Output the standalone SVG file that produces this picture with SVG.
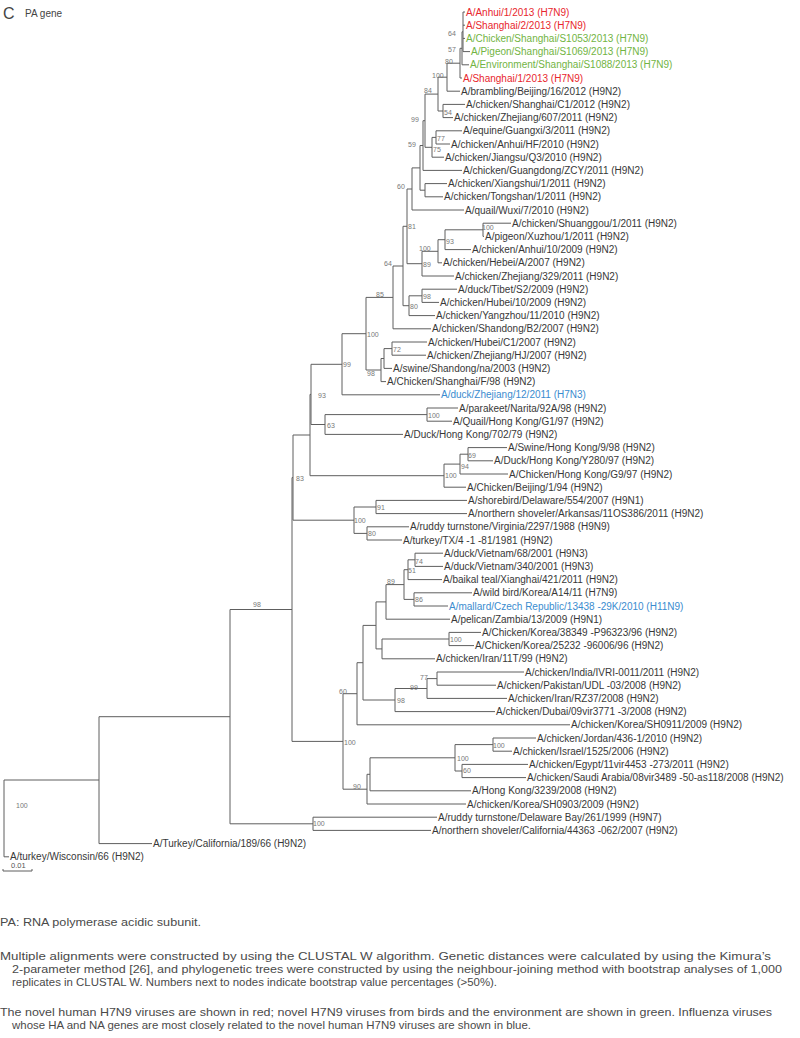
<svg xmlns="http://www.w3.org/2000/svg" width="800" height="1038" viewBox="0 0 800 1038">
<style>
.br{stroke:#5e5e5e;stroke-width:1;fill:none}
text{font-family:"Liberation Sans",Arial,sans-serif}
.lf{font-size:10px;fill:#383838;white-space:pre}
.red{fill:#e8262d}
.grn{fill:#72b443}
.blu{fill:#3a8ccf}
.bs{font-size:7px;fill:#777777;opacity:0.99}
.cap{font-size:11px;fill:#4a4a4a;white-space:pre}
</style>
<rect width="800" height="1038" fill="#fff"/>
<g id="title">
<text x="3" y="19" style="font-size:16px;fill:#444">C</text>
<text x="25" y="17" style="font-size:10px;fill:#444">PA gene</text>
</g>
<g id="connectors" class="br">
<path d="M463,12V51.6M463,12H465M463,25.2H465M463,38.4H465M463,51.6H470"/>
<path d="M462,31.8V64.8M462,31.8H463M462,64.8H469"/>
<path d="M460,48.3V78M460,48.3H462M460,78H462"/>
<path d="M447,63.2V91.2M447,63.2H460M447,91.2H460"/>
<path d="M443,104.4V117.6M443,104.4H465M443,117.6H453"/>
<path d="M438,77.2V111M438,77.2H447M438,111H443"/>
<path d="M436,130.8V144M436,130.8H462M436,144H450"/>
<path d="M432,137.4V157.2M432,137.4H436M432,157.2H444"/>
<path d="M425,94.1V147.3M425,94.1H438M425,147.3H432"/>
<path d="M423,120.7V170.4M423,120.7H425M423,170.4H462"/>
<path d="M425,183.6V196.8M425,183.6H447M425,196.8H443"/>
<path d="M420,145.5V190.2M420,145.5H423M420,190.2H425"/>
<path d="M412,167.9V210M412,167.9H420M412,210H464"/>
<path d="M483,223.2V236.4M483,223.2H511M483,236.4H484"/>
<path d="M445,229.8V249.6M445,229.8H483M445,249.6H471"/>
<path d="M438,239.7V262.8M438,239.7H445M438,262.8H442"/>
<path d="M422,251.3V276M422,251.3H438M422,276H454"/>
<path d="M407,189V263.7M407,189H412M407,263.7H422"/>
<path d="M422,289.2V302.4M422,289.2H457M422,302.4H439"/>
<path d="M409,295.8V315.6M409,295.8H422M409,315.6H435"/>
<path d="M403,226.3V305.7M403,226.3H407M403,305.7H409"/>
<path d="M393,266V328.8M393,266H403M393,328.8H431"/>
<path d="M392,342V355.2M392,342H427M392,355.2H426"/>
<path d="M384,348.6V368.4M384,348.6H392M384,368.4H392"/>
<path d="M381,358.5V381.6M381,358.5H384M381,381.6H386"/>
<path d="M366,297.4V370M366,297.4H393M366,370H381"/>
<path d="M342,333.7V394.8M342,333.7H366M342,394.8H440"/>
<path d="M427,408V421.2M427,408H458M427,421.2H452"/>
<path d="M325,414.6V434.4M325,414.6H427M325,434.4H403"/>
<path d="M311,364.3V424.5M311,364.3H342M311,424.5H325"/>
<path d="M468,447.6V460.8M468,447.6H507M468,460.8H493"/>
<path d="M460,454.2V474M460,454.2H468M460,474H508"/>
<path d="M444,464.1V487.2M444,464.1H460M444,487.2H466"/>
<path d="M310,394.4V475.7M310,394.4H311M310,475.7H444"/>
<path d="M376,500.4V513.6M376,500.4H467M376,513.6H467"/>
<path d="M367,526.8V540M367,526.8H409M367,540H402"/>
<path d="M354,507V533.4M354,507H376M354,533.4H367"/>
<path d="M293,435V520.2M293,435H310M293,520.2H354"/>
<path d="M415,553.2V566.4M415,553.2H443M415,566.4H443"/>
<path d="M408,559.8V579.6M408,559.8H415M408,579.6H442"/>
<path d="M414,592.8V606M414,592.8H472M414,606H448"/>
<path d="M404,569.7V599.4M404,569.7H408M404,599.4H414"/>
<path d="M386,584.6V619.2M386,584.6H404M386,619.2H450"/>
<path d="M449,632.4V645.6M449,632.4H481M449,645.6H474"/>
<path d="M382,639V658.8M382,639H449M382,658.8H435"/>
<path d="M376,601.9V648.9M376,601.9H386M376,648.9H382"/>
<path d="M437,672V685.2M437,672H524M437,685.2H496"/>
<path d="M427,678.6V698.4M427,678.6H437M427,698.4H507"/>
<path d="M395,688.5V711.6M395,688.5H427M395,711.6H495"/>
<path d="M363,625.4V700M363,625.4H376M363,700H395"/>
<path d="M357,662.7V724.8M357,662.7H363M357,724.8H570"/>
<path d="M493,738V751.2M493,738H536M493,751.2H512"/>
<path d="M462,764.4V777.6M462,764.4H528M462,777.6H526"/>
<path d="M455,744.6V771M455,744.6H493M455,771H462"/>
<path d="M370,757.8V790.8M370,757.8H455M370,790.8H471"/>
<path d="M367,774.3V804M367,774.3H370M367,804H466"/>
<path d="M343,693.7V789.2M343,693.7H357M343,789.2H367"/>
<path d="M292,477.6V741.4M292,477.6H293M292,741.4H343"/>
<path d="M313,817.2V830.4M313,817.2H437M313,830.4H431"/>
<path d="M230,609.5V823.8M230,609.5H292M230,823.8H313"/>
<path d="M99,716.7V843.6M99,716.7H230M99,843.6H152"/>
<path d="M4,780V856.8M4,780H99M4,856.8H9"/>
</g>
<g id="leaves" class="lf">
<g id="leaf01"><text class="red" x="466" y="15.5">A/Anhui/1/2013 (H7N9)</text></g>
<g id="leaf02"><text class="red" x="466" y="28.7">A/Shanghai/2/2013 (H7N9)</text></g>
<g id="leaf03"><text class="grn" x="466" y="41.9">A/Chicken/Shanghai/S1053/2013 (H7N9)</text></g>
<g id="leaf04"><text class="grn" x="471" y="55.1">A/Pigeon/Shanghai/S1069/2013 (H7N9)</text></g>
<g id="leaf05"><text class="grn" x="470" y="68.3">A/Environment/Shanghai/S1088/2013 (H7N9)</text></g>
<g id="leaf06"><text class="red" x="463" y="81.5">A/Shanghai/1/2013 (H7N9)</text></g>
<g id="leaf07"><text x="461" y="94.7">A/brambling/Beijing/16/2012 (H9N2)</text></g>
<g id="leaf08"><text x="466" y="107.9">A/chicken/Shanghai/C1/2012 (H9N2)</text></g>
<g id="leaf09"><text x="454" y="121.1">A/chicken/Zhejiang/607/2011 (H9N2)</text></g>
<g id="leaf10"><text x="463" y="134.3">A/equine/Guangxi/3/2011 (H9N2)</text></g>
<g id="leaf11"><text x="451" y="147.5">A/chicken/Anhui/HF/2010 (H9N2)</text></g>
<g id="leaf12"><text x="445" y="160.7">A/chicken/Jiangsu/Q3/2010 (H9N2)</text></g>
<g id="leaf13"><text x="463" y="173.9">A/chicken/Guangdong/ZCY/2011 (H9N2)</text></g>
<g id="leaf14"><text x="448" y="187.1">A/chicken/Xiangshui/1/2011 (H9N2)</text></g>
<g id="leaf15"><text x="444" y="200.3">A/chicken/Tongshan/1/2011 (H9N2)</text></g>
<g id="leaf16"><text x="465" y="213.5">A/quail/Wuxi/7/2010 (H9N2)</text></g>
<g id="leaf17"><text x="512" y="226.7">A/chicken/Shuanggou/1/2011 (H9N2)</text></g>
<g id="leaf18"><text x="485" y="239.9">A/pigeon/Xuzhou/1/2011 (H9N2)</text></g>
<g id="leaf19"><text x="472" y="253.1">A/chicken/Anhui/10/2009 (H9N2)</text></g>
<g id="leaf20"><text x="443" y="266.3">A/chicken/Hebei/A/2007 (H9N2)</text></g>
<g id="leaf21"><text x="455" y="279.5">A/chicken/Zhejiang/329/2011 (H9N2)</text></g>
<g id="leaf22"><text x="458" y="292.7">A/duck/Tibet/S2/2009 (H9N2)</text></g>
<g id="leaf23"><text x="440" y="305.9">A/chicken/Hubei/10/2009 (H9N2)</text></g>
<g id="leaf24"><text x="436" y="319.1">A/chicken/Yangzhou/11/2010 (H9N2)</text></g>
<g id="leaf25"><text x="432" y="332.3">A/chicken/Shandong/B2/2007 (H9N2)</text></g>
<g id="leaf26"><text x="428" y="345.5">A/chicken/Hubei/C1/2007 (H9N2)</text></g>
<g id="leaf27"><text x="427" y="358.7">A/chicken/Zhejiang/HJ/2007 (H9N2)</text></g>
<g id="leaf28"><text x="393" y="371.9">A/swine/Shandong/na/2003 (H9N2)</text></g>
<g id="leaf29"><text x="387" y="385.1">A/Chicken/Shanghai/F/98 (H9N2)</text></g>
<g id="leaf30"><text class="blu" x="441" y="398.3">A/duck/Zhejiang/12/2011 (H7N3)</text></g>
<g id="leaf31"><text x="459" y="411.5">A/parakeet/Narita/92A/98 (H9N2)</text></g>
<g id="leaf32"><text x="453" y="424.7">A/Quail/Hong Kong/G1/97 (H9N2)</text></g>
<g id="leaf33"><text x="404" y="437.9">A/Duck/Hong Kong/702/79 (H9N2)</text></g>
<g id="leaf34"><text x="508" y="451.1">A/Swine/Hong Kong/9/98 (H9N2)</text></g>
<g id="leaf35"><text x="494" y="464.3">A/Duck/Hong Kong/Y280/97 (H9N2)</text></g>
<g id="leaf36"><text x="509" y="477.5">A/Chicken/Hong Kong/G9/97 (H9N2)</text></g>
<g id="leaf37"><text x="467" y="490.7">A/Chicken/Beijing/1/94 (H9N2)</text></g>
<g id="leaf38"><text x="468" y="503.9">A/shorebird/Delaware/554/2007 (H9N1)</text></g>
<g id="leaf39"><text x="468" y="517.1">A/northern shoveler/Arkansas/11OS386/2011 (H9N2)</text></g>
<g id="leaf40"><text x="410" y="530.3">A/ruddy turnstone/Virginia/2297/1988 (H9N9)</text></g>
<g id="leaf41"><text x="403" y="543.5">A/turkey/TX/4 -1 -81/1981 (H9N2)</text></g>
<g id="leaf42"><text x="444" y="556.7">A/duck/Vietnam/68/2001 (H9N3)</text></g>
<g id="leaf43"><text x="444" y="569.9">A/duck/Vietnam/340/2001 (H9N3)</text></g>
<g id="leaf44"><text x="443" y="583.1">A/baikal teal/Xianghai/421/2011 (H9N2)</text></g>
<g id="leaf45"><text x="473" y="596.3">A/wild bird/Korea/A14/11 (H7N9)</text></g>
<g id="leaf46"><text class="blu" x="449" y="609.5">A/mallard/Czech Republic/13438  -29K/2010 (H11N9)</text></g>
<g id="leaf47"><text x="451" y="622.7">A/pelican/Zambia/13/2009 (H9N1)</text></g>
<g id="leaf48"><text x="482" y="635.9">A/Chicken/Korea/38349 -P96323/96 (H9N2)</text></g>
<g id="leaf49"><text x="475" y="649.1">A/Chicken/Korea/25232 -96006/96 (H9N2)</text></g>
<g id="leaf50"><text x="436" y="662.3">A/chicken/Iran/11T/99 (H9N2)</text></g>
<g id="leaf51"><text x="525" y="675.5">A/chicken/India/IVRI-0011/2011 (H9N2)</text></g>
<g id="leaf52"><text x="497" y="688.7">A/chicken/Pakistan/UDL -03/2008 (H9N2)</text></g>
<g id="leaf53"><text x="508" y="701.9">A/chicken/Iran/RZ37/2008 (H9N2)</text></g>
<g id="leaf54"><text x="496" y="715.1">A/chicken/Dubai/09vir3771 -3/2008 (H9N2)</text></g>
<g id="leaf55"><text x="571" y="728.3">A/chicken/Korea/SH0911/2009 (H9N2)</text></g>
<g id="leaf56"><text x="537" y="741.5">A/chicken/Jordan/436-1/2010 (H9N2)</text></g>
<g id="leaf57"><text x="513" y="754.7">A/chicken/Israel/1525/2006 (H9N2)</text></g>
<g id="leaf58"><text x="529" y="767.9">A/chicken/Egypt/11vir4453  -273/2011 (H9N2)</text></g>
<g id="leaf59"><text x="527" y="781.1">A/chicken/Saudi Arabia/08vir3489 -50-as118/2008 (H9N2)</text></g>
<g id="leaf60"><text x="472" y="794.3">A/Hong Kong/3239/2008 (H9N2)</text></g>
<g id="leaf61"><text x="467" y="807.5">A/chicken/Korea/SH0903/2009 (H9N2)</text></g>
<g id="leaf62"><text x="438" y="820.7">A/ruddy turnstone/Delaware Bay/261/1999 (H9N7)</text></g>
<g id="leaf63"><text x="432" y="833.9">A/northern shoveler/California/44363    -062/2007 (H9N2)</text></g>
<g id="leaf64"><text x="153" y="847.1">A/Turkey/California/189/66 (H9N2)</text></g>
<g id="leaf65"><text x="10" y="860.3">A/turkey/Wisconsin/66 (H9N2)</text></g>
</g>
<g id="bootstrap" class="bs">
<g id="bs01"><text x="448" y="36">64</text></g>
<g id="bs02"><text x="448" y="52">57</text></g>
<g id="bs03"><text x="445" y="64">80</text></g>
<g id="bs04"><text x="432" y="78">100</text></g>
<g id="bs05"><text x="424" y="93">84</text></g>
<g id="bs06"><text x="444" y="115">54</text></g>
<g id="bs07"><text x="411" y="122">99</text></g>
<g id="bs08"><text x="437" y="141">77</text></g>
<g id="bs09"><text x="433" y="152">75</text></g>
<g id="bs10"><text x="408" y="147">59</text></g>
<g id="bs11"><text x="397" y="189">60</text></g>
<g id="bs12"><text x="408" y="229">81</text></g>
<g id="bs13"><text x="482" y="230">100</text></g>
<g id="bs14"><text x="446" y="244">93</text></g>
<g id="bs15"><text x="419" y="251">100</text></g>
<g id="bs16"><text x="423" y="267">89</text></g>
<g id="bs17"><text x="384" y="266">64</text></g>
<g id="bs18"><text x="423" y="299">98</text></g>
<g id="bs19"><text x="410" y="309">80</text></g>
<g id="bs20"><text x="376" y="297">85</text></g>
<g id="bs21"><text x="367" y="337">100</text></g>
<g id="bs22"><text x="393" y="352">72</text></g>
<g id="bs23"><text x="367" y="376">98</text></g>
<g id="bs24"><text x="343" y="367">99</text></g>
<g id="bs25"><text x="318" y="398">93</text></g>
<g id="bs26"><text x="428" y="418">100</text></g>
<g id="bs27"><text x="327" y="428">63</text></g>
<g id="bs28"><text x="468" y="458">69</text></g>
<g id="bs29"><text x="461" y="469">94</text></g>
<g id="bs30"><text x="445" y="478">100</text></g>
<g id="bs31"><text x="296" y="481">83</text></g>
<g id="bs32"><text x="377" y="510">91</text></g>
<g id="bs33"><text x="354" y="523">100</text></g>
<g id="bs34"><text x="368" y="536">80</text></g>
<g id="bs35"><text x="415" y="564">74</text></g>
<g id="bs36"><text x="408" y="573">51</text></g>
<g id="bs37"><text x="387" y="584">89</text></g>
<g id="bs38"><text x="415" y="602">86</text></g>
<g id="bs39"><text x="450" y="642">100</text></g>
<g id="bs40"><text x="420" y="680">77</text></g>
<g id="bs41"><text x="410" y="690">99</text></g>
<g id="bs42"><text x="397" y="703">98</text></g>
<g id="bs43"><text x="339" y="694">60</text></g>
<g id="bs44"><text x="344" y="745">100</text></g>
<g id="bs45"><text x="493" y="748">100</text></g>
<g id="bs46"><text x="457" y="761">100</text></g>
<g id="bs47"><text x="463" y="773">60</text></g>
<g id="bs48"><text x="353" y="789">90</text></g>
<g id="bs49"><text x="253" y="607">98</text></g>
<g id="bs50"><text x="313" y="826">100</text></g>
<g id="bs51"><text x="16" y="808">100</text></g>
</g>
<g id="scalebar">
<path class="br" d="M3,869V871H32V869"/>
<text x="11" y="868" style="font-size:7.5px;fill:#555">0.01</text>
</g>
<g id="caption" class="cap">
<text x="0" y="926" textLength="201" lengthAdjust="spacingAndGlyphs">PA: RNA polymerase acidic subunit.</text>
<text x="0" y="960" textLength="771" lengthAdjust="spacingAndGlyphs">Multiple alignments were constructed by using the CLUSTAL W algorithm. Genetic distances were calculated by using the Kimura’s</text>
<text x="12" y="973" textLength="770" lengthAdjust="spacingAndGlyphs">2-parameter method [26], and phylogenetic trees were constructed by using the neighbour-joining method with bootstrap analyses of 1,000</text>
<text x="12" y="986" textLength="485" lengthAdjust="spacingAndGlyphs">replicates in CLUSTAL W. Numbers next to nodes indicate bootstrap value percentages (&gt;50%).</text>
<text x="0" y="1016" textLength="772" lengthAdjust="spacingAndGlyphs">The novel human H7N9 viruses are shown in red; novel H7N9 viruses from birds and the environment are shown in green. Influenza viruses</text>
<text x="12" y="1029" textLength="519" lengthAdjust="spacingAndGlyphs">whose HA and NA genes are most closely related to the novel human H7N9 viruses are shown in blue.</text>
</g>
</svg>
